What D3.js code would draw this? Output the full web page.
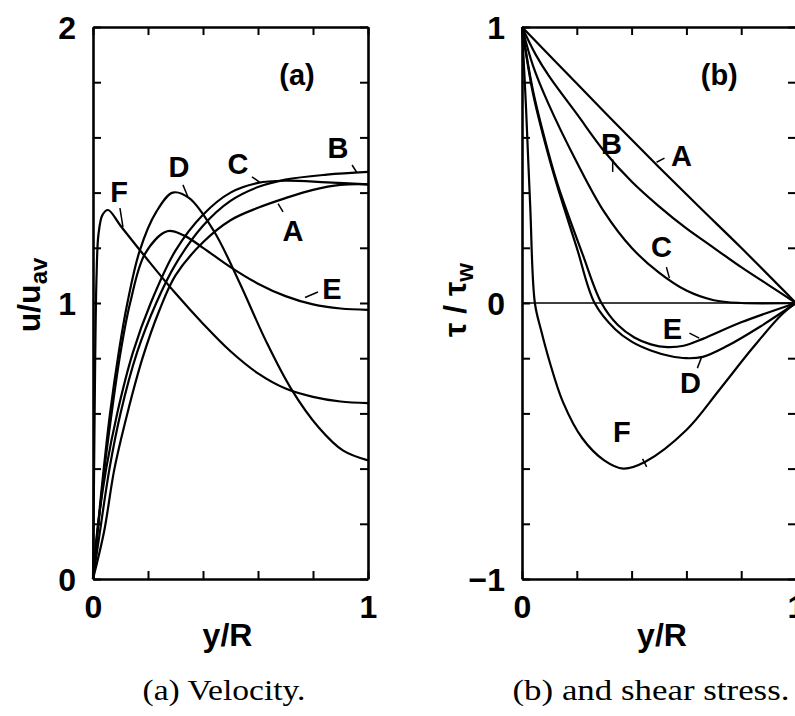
<!DOCTYPE html>
<html>
<head>
<meta charset="utf-8">
<script src="https://cdn.jsdelivr.net/npm/d3@7"></script>
<style>
  body { margin: 0; background: #fff; }
  svg text { fill: #000; }
</style>
</head>
<body>
<svg id="chart" width="795" height="716"></svg>
<script>
// ---- data ----
// panel (a): velocity profiles u/u_av against y/R
const velA = [[0,0],[0.04,0.17],[0.078,0.4],[0.125,0.6],[0.18,0.8],[0.24,0.97],[0.3,1.1],[0.4,1.22],[0.5,1.3],[0.6,1.345],[0.7,1.38],[0.8,1.41],[0.9,1.428],[1,1.43]];
const velB = [[0,0],[0.025,0.17],[0.06,0.4],[0.1,0.6],[0.16,0.82],[0.23,1.0],[0.3,1.14],[0.4,1.28],[0.5,1.37],[0.6,1.42],[0.7,1.447],[0.85,1.465],[1,1.475]];
const velC = [[0,0],[0.015,0.17],[0.048,0.4],[0.088,0.6],[0.145,0.82],[0.21,1.0],[0.3,1.19],[0.4,1.32],[0.5,1.4],[0.6,1.435],[0.7,1.443],[0.85,1.437],[1,1.43]];
const velD = [[0,0],[0.015,0.16],[0.037,0.38],[0.062,0.6],[0.095,0.83],[0.125,1.0],[0.17,1.19],[0.23,1.33],[0.29,1.4],[0.35,1.38],[0.44,1.26],[0.53,1.08],[0.63,0.86],[0.72,0.69],[0.82,0.55],[0.91,0.465],[1,0.43]];
const velE = [[0,0],[0.015,0.15],[0.037,0.36],[0.065,0.58],[0.1,0.82],[0.135,1.0],[0.19,1.18],[0.27,1.26],[0.33,1.245],[0.4,1.2],[0.5,1.13],[0.6,1.07],[0.7,1.025],[0.8,0.995],[0.9,0.98],[1,0.975]];
const velF = [[0,0],[0.004,0.4],[0.008,0.8],[0.013,1.1],[0.02,1.25],[0.035,1.32],[0.055,1.337],[0.1,1.28],[0.2,1.155],[0.3,1.035],[0.4,0.925],[0.5,0.825],[0.6,0.745],[0.7,0.69],[0.8,0.66],[0.9,0.643],[1,0.637]];

// panel (b): shear stress tau/tau_w against y/R
const shrA = [[0,1],[0.2,0.795],[0.35,0.642],[0.5,0.492],[0.65,0.345],[0.8,0.2],[1,0]];
const shrB = [[0,1],[0.05,0.9],[0.1,0.82],[0.2,0.685],[0.3,0.55],[0.4,0.44],[0.5,0.35],[0.6,0.27],[0.7,0.2],[0.8,0.13],[0.9,0.065],[1,0]];
const shrC = [[0,1],[0.04,0.86],[0.095,0.725],[0.2,0.51],[0.3,0.33],[0.4,0.2],[0.5,0.11],[0.6,0.045],[0.7,0.01],[0.8,0],[1,0]];
const shrD = [[0,1],[0.04,0.76],[0.095,0.54],[0.13,0.42],[0.2,0.2],[0.265,0.0],[0.34,-0.095],[0.4,-0.14],[0.47,-0.172],[0.54,-0.192],[0.6,-0.2],[0.66,-0.195],[0.75,-0.155],[0.87,-0.085],[1,0]];
const shrE = [[0,1],[0.04,0.77],[0.095,0.55],[0.13,0.43],[0.22,0.18],[0.29,0.0],[0.35,-0.08],[0.41,-0.125],[0.47,-0.15],[0.53,-0.16],[0.59,-0.155],[0.66,-0.13],[0.8,-0.07],[1,0]];
const shrF = [[0,1],[0.015,0.7],[0.03,0.35],[0.047,0],[0.07,-0.1],[0.1,-0.21],[0.15,-0.36],[0.22,-0.49],[0.3,-0.57],[0.37,-0.6],[0.45,-0.575],[0.6,-0.46],[0.72,-0.315],[0.84,-0.165],[0.95,-0.04],[1,0]];

const curveNames = ["A", "B", "C", "D", "E", "F"];
const velSeries = [velA, velB, velC, velD, velE, velF];
const shrSeries = [shrA, shrB, shrC, shrD, shrE, shrF];

// label positions [x, y] and leader lines [x1, y1, x2, y2], in data units
const velLabels = [[0.727,1.264],[0.891,1.562],[0.527,1.504],[0.313,1.496],[0.869,1.054],[0.095,1.402]];
const velLeaders = [[0.673,1.36,0.691,1.33],[0.942,1.5,0.96,1.472],[0.578,1.457,0.607,1.437],[0.327,1.428,0.345,1.385],[0.771,1.02,0.818,1.04],[0.098,1.344,0.109,1.275]];
const shrLabels = [[0.582,0.536],[0.327,0.576],[0.509,0.203],[0.615,-0.29],[0.549,-0.091],[0.364,-0.467]];
const shrLeaders = [[0.491,0.51,0.52,0.525],[0.331,0.52,0.331,0.475],[0.527,0.13,0.538,0.09],[0.64,-0.236,0.655,-0.197],[0.611,-0.109,0.647,-0.127],[0.44,-0.565,0.455,-0.594]];

const xTicks = [0, 0.2, 0.4, 0.6, 0.8, 1];
const velTicks = [0, 0.2, 0.4, 0.6, 0.8, 1, 1.2, 1.4, 1.6, 1.8, 2];
const shrTicks = [-1, -0.8, -0.6, -0.4, -0.2, 0, 0.2, 0.4, 0.6, 0.8, 1];

const svg = d3.select("#chart");
const sans = "'Liberation Sans', Arial, sans-serif";
const serif = "'Liberation Serif', 'DejaVu Serif', serif";

function drawPanel(opt) {
    const x = d3.scaleLinear().domain([0, 1]).range(opt.xRange);
    const y = d3.scaleLinear().domain(opt.yDomain).range([579, 27]);
    const g = svg.append("g");

    const fmt = d => (d === 0 || d === 1 || d === opt.yDomain[0] || d === opt.yDomain[1]) ? (d < 0 ? "\u2212" + Math.abs(d) : d) : "";
    const xfmt = d => (d === 0 || d === 1) ? d : "";

    // axes with inward ticks
    const bottom = g.append("g").attr("transform", `translate(0,${y.range()[0]})`)
        .call(d3.axisBottom(x).tickValues(xTicks).tickSize(-8).tickSizeOuter(0).tickPadding(16).tickFormat(xfmt));
    const top = g.append("g").attr("transform", `translate(0,${y.range()[1]})`)
        .call(d3.axisTop(x).tickValues(xTicks).tickSize(-8).tickSizeOuter(0).tickFormat(""));
    const left = g.append("g").attr("transform", `translate(${x.range()[0]},0)`)
        .call(d3.axisLeft(y).tickValues(opt.yTicks).tickSize(-8).tickSizeOuter(0).tickPadding(17).tickFormat(fmt));
    const right = g.append("g").attr("transform", `translate(${x.range()[1]},0)`)
        .call(d3.axisRight(y).tickValues(opt.yTicks).tickSize(-8).tickSizeOuter(0).tickFormat(""));

    [bottom, top, left, right].forEach(a => {
        a.select(".domain").attr("stroke-width", 2.6);
        a.selectAll(".tick line").attr("stroke-width", 2);
        a.selectAll("text").attr("font-family", sans).attr("font-size", 32).attr("font-weight", "bold").attr("fill", "#000");
    });
    bottom.selectAll("text").attr("dy", "0.72em");
    left.selectAll("text").attr("dy", "0.36em");

    if (opt.zeroLine) {
        g.append("line")
            .attr("x1", x(0)).attr("x2", x(1))
            .attr("y1", y(0)).attr("y2", y(0))
            .attr("stroke", "#000").attr("stroke-width", 1.6);
    }

    const line = d3.line()
        .x(d => x(d[0]))
        .y(d => y(d[1]))
        .curve(d3.curveCatmullRom.alpha(0.5));

    g.append("g").selectAll("path")
        .data(opt.series)
        .join("path")
        .attr("d", line)
        .attr("fill", "none")
        .attr("stroke", "#000")
        .attr("stroke-width", 2.2)
        .attr("stroke-linejoin", "round");

    g.append("g").selectAll("line")
        .data(opt.leaders)
        .join("line")
        .attr("x1", d => x(d[0])).attr("y1", d => y(d[1]))
        .attr("x2", d => x(d[2])).attr("y2", d => y(d[3]))
        .attr("stroke", "#000").attr("stroke-width", 1.5);

    g.append("g").selectAll("text")
        .data(opt.labels)
        .join("text")
        .attr("x", d => x(d[0]))
        .attr("y", d => y(d[1]))
        .attr("dy", "0.36em")
        .attr("text-anchor", "middle")
        .attr("font-family", sans)
        .attr("font-size", 29)
        .attr("font-weight", "bold")
        .text((d, i) => curveNames[i]);

    g.append("text")
        .attr("x", x(opt.tag[0])).attr("y", y(opt.tag[1]))
        .attr("dy", "0.36em")
        .attr("text-anchor", "middle")
        .attr("font-family", sans).attr("font-size", 29).attr("font-weight", "bold")
        .text(opt.tagText);

    // x axis title
    g.append("text")
        .attr("x", (x(0) + x(1)) / 2 + opt.xTitleShift).attr("y", 646)
        .attr("text-anchor", "middle")
        .attr("font-family", sans).attr("font-size", 32).attr("font-weight", "bold")
        .text("y/R");

    // y axis title
    const yt = g.append("text")
        .attr("transform", `translate(${opt.yTitleX},${opt.yTitleY}) rotate(-90)`)
        .attr("text-anchor", "middle")
        .attr("font-family", sans).attr("font-size", 32).attr("font-weight", "bold");
    yt.append("tspan").text(opt.yTitle[0]);
    yt.append("tspan").attr("font-size", 24).attr("dy", 7).text(opt.yTitle[1]);

    // caption
    g.append("text")
        .attr("x", opt.captionX).attr("y", 700)
        .attr("text-anchor", "middle")
        .attr("font-family", serif).attr("font-size", 29)
        .attr("textLength", opt.captionW).attr("lengthAdjust", "spacingAndGlyphs")
        .text(opt.caption);
}

drawPanel({
    xRange: [93, 368], yDomain: [0, 2], yTicks: velTicks,
    series: velSeries, labels: velLabels, leaders: velLeaders,
    tag: [0.742, 1.826], tagText: "(a)",
    xTitleShift: -3, yTitleX: 40, yTitleY: 295, yTitle: ["u/u", "av"],
    caption: "(a)  Velocity.", captionX: 224, captionW: 163, zeroLine: false
});

drawPanel({
    xRange: [522, 796], yDomain: [-1, 1], yTicks: shrTicks,
    series: shrSeries, labels: shrLabels, leaders: shrLeaders,
    tag: [0.72, 0.826], tagText: "(b)",
    xTitleShift: 3, yTitleX: 466, yTitleY: 300, yTitle: ["\u03c4 / \u03c4", "w"],
    caption: "(b)  and shear stress.", captionX: 651, captionW: 277, zeroLine: true
});
</script>
</body>
</html>
